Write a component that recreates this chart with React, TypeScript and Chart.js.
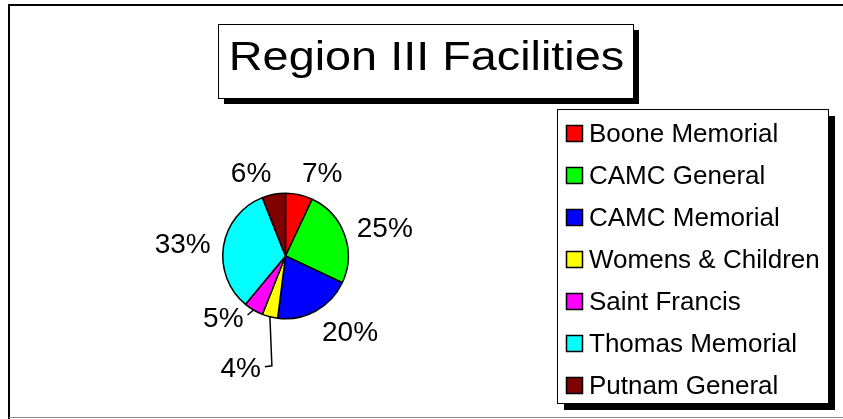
import React, { useEffect, useRef } from "react";
import { Chart, registerables } from "chart.js";

Chart.register(...registerables);

const TITLE = "Region III Facilities";
const categories = [
  "Boone Memorial",
  "CAMC General",
  "CAMC Memorial",
  "Womens & Children",
  "Saint Francis",
  "Thomas Memorial",
  "Putnam General",
];
const values = [7, 25, 20, 4, 5, 33, 6];
const colors = ["#FF0000", "#00FF00", "#0000FF", "#FFFF00", "#FF00FF", "#00FFFF", "#800000"];

const FONT = "'Liberation Sans', Arial, sans-serif";

const framePlugin = {
  id: "frame",
  beforeDraw(chart: any) {
    const ctx = chart.ctx;
    ctx.save();
    ctx.fillStyle = "#fff";
    ctx.fillRect(0, 0, chart.width, chart.height);
    // outer frame
    ctx.strokeStyle = "#000";
    ctx.lineWidth = 2;
    ctx.beginPath();
    ctx.moveTo(9, 419);
    ctx.lineTo(9, 5);
    ctx.lineTo(843, 5);
    ctx.stroke();
    ctx.strokeStyle = "#888";
    ctx.lineWidth = 1;
    ctx.beginPath();
    ctx.moveTo(9, 417.5);
    ctx.lineTo(843, 417.5);
    ctx.stroke();

    // title box
    const tx = 218, ty = 24, tw = 415, th = 74, sh = 6;
    ctx.fillStyle = "#000";
    ctx.fillRect(tx + sh, ty + sh, tw, th);
    ctx.fillStyle = "#fff";
    ctx.fillRect(tx, ty, tw, th);
    ctx.strokeStyle = "#000";
    ctx.lineWidth = 1;
    ctx.strokeRect(tx + 0.5, ty + 0.5, tw, th);
    ctx.fillStyle = "#000";
    ctx.font = `40px ${FONT}`;
    ctx.textAlign = "center";
    ctx.textBaseline = "alphabetic";
    ctx.save();
    ctx.translate(tx + tw / 2 + 1, 70);
    ctx.scale(1.17, 1);
    ctx.fillText(TITLE, 0, 0);
    ctx.restore();

    // legend box
    const lx = 557, ly = 109, lw = 271, lh = 294, lsh = 7;
    ctx.fillStyle = "#000";
    ctx.fillRect(lx + lsh, ly + lsh, lw, lh);
    ctx.fillStyle = "#fff";
    ctx.fillRect(lx, ly, lw, lh);
    ctx.strokeStyle = "#000";
    ctx.strokeRect(lx + 0.5, ly + 0.5, lw, lh);
    const labels = chart.data.labels as string[];
    const bg = chart.data.datasets[0].backgroundColor as string[];
    ctx.font = `26px ${FONT}`;
    ctx.textAlign = "left";
    labels.forEach((lab, i) => {
      const cy = 133 + i * 42;
      ctx.fillStyle = bg[i];
      ctx.fillRect(566, cy - 8, 16, 16);
      ctx.strokeStyle = "#000";
      ctx.lineWidth = 1.5;
      ctx.strokeRect(566.5, cy - 7.5, 16, 16);
      ctx.fillStyle = "#000";
      ctx.fillText(lab, 589, cy + 9);
    });
    ctx.restore();
  },
};

const labelPlugin = {
  id: "pctLabels",
  afterDatasetsDraw(chart: any) {
    const ctx = chart.ctx;
    const ds = chart.data.datasets[0].data as number[];
    const total = ds.reduce((a, b) => a + b, 0);
    const meta = chart.getDatasetMeta(0);
    ctx.save();
    ctx.font = `28px ${FONT}`;
    ctx.fillStyle = "#000";
    ctx.strokeStyle = "#000";
    ctx.lineWidth = 1.5;
    const capH = 20;
    meta.data.forEach((arc: any, i: number) => {
      const p = arc.getProps(["x", "y", "startAngle", "endAngle", "outerRadius"], true);
      const mid = (p.startAngle + p.endAngle) / 2;
      const ux = Math.cos(mid), uy = Math.sin(mid);
      const txt = Math.round((ds[i] / total) * 100) + "%";
      const frac = ds[i] / total;
      ctx.textBaseline = "alphabetic";
      if (frac < 0.055) {
        const ex = p.x + p.outerRadius * ux;
        const ey = p.y + p.outerRadius * uy;
        const nextSmall = i + 1 < ds.length && ds[i + 1] / total < 0.055;
        let endX: number, endY: number;
        ctx.beginPath();
        ctx.moveTo(ex, ey);
        if (nextSmall) {
          ctx.lineTo(ex + 2, ey + 49);
          ctx.lineTo(ex - 5, ey + 50);
          endX = ex - 9;
          endY = ey + 50;
        } else {
          ctx.lineTo(ex - 6, ey + 5);
          endX = ex - 10;
          endY = ey + 7;
        }
        ctx.stroke();
        ctx.textAlign = "right";
        ctx.fillText(txt, endX, endY + capH / 2);
      } else {
        const r = p.outerRadius + 13;
        const px = p.x + r * ux;
        const py = p.y + r * uy;
        const cy = py + (capH / 2) * uy;
        ctx.textAlign = ux >= 0 ? "left" : "right";
        ctx.fillText(txt, px, cy + capH / 2);
      }
    });
    ctx.restore();
  },
};

export default function App() {
  const ref = useRef<HTMLCanvasElement | null>(null);
  useEffect(() => {
    document.body.style.margin = "0";
    const canvas = ref.current!;
    const chart = new Chart(canvas, {
      type: "pie",
      data: {
        labels: categories,
        datasets: [
          {
            data: values,
            backgroundColor: colors,
            borderColor: "#000",
            borderWidth: 1.5,
          },
        ],
      },
      options: {
        responsive: false,
        animation: false,
        layout: { padding: { left: 222, top: 192, right: 494, bottom: 99 } },
        plugins: {
          legend: { display: false },
          tooltip: { enabled: false },
          title: { display: false },
        },
      },
      plugins: [framePlugin, labelPlugin],
    });
    return () => chart.destroy();
  }, []);
  return (
    <canvas
      ref={ref}
      width={843}
      height={419}
      style={{ position: "fixed", left: 0, top: 0, width: 843, height: 419 }}
    />
  );
}
